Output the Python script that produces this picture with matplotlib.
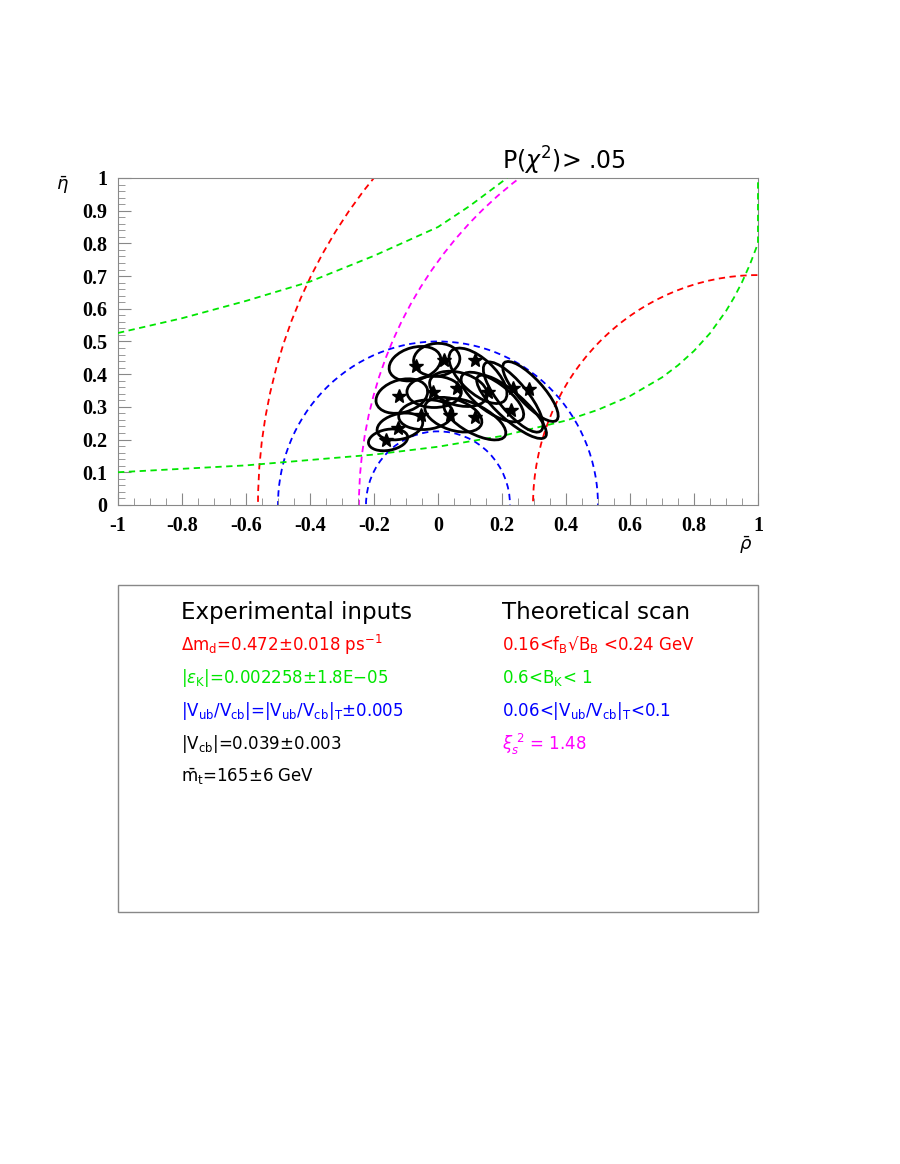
import numpy as np
import matplotlib.pyplot as plt
from matplotlib.patches import Circle, Ellipse, Rectangle

# constraint circles: centre and radii in (rho, eta)
dm_centre = (1.0, 0.0)
dm_radii = [1.5625, 0.703]          # red, Delta m_d
xi_radius = 1.247                   # magenta, xi_s
vub_centre = (0.0, 0.0)
vub_radii = [0.5, 0.225]            # blue, |Vub/Vcb|

# eps_K hyperbolas (green)
epsk_lo_rho = [-1.0, -0.6, -0.2, 0.0, 0.2, 0.4, 0.5, 0.6, 0.7, 0.75, 0.8, 0.85, 0.9, 0.925, 0.95, 0.975, 1.0, 1.0]
epsk_lo_eta = [0.100, 0.121, 0.154, 0.178, 0.211, 0.258, 0.291, 0.333, 0.390, 0.427, 0.471, 0.525, 0.593, 0.634, 0.681, 0.736, 0.80, 1.0]
epsk_hi_rho = [-1.0, -0.8, -0.6, -0.4, -0.2, 0.0, 0.1, 0.216]
epsk_hi_eta = [0.526, 0.571, 0.624, 0.683, 0.762, 0.850, 0.915, 1.0]

# fitted points (stars) and their 95% contours
star_rho = [-0.163, -0.125, -0.122, -0.069, 0.019, -0.016, 0.059, -0.053, 0.038, 0.116, 0.116, 0.156, 0.234, 0.284, 0.228]
star_eta = [0.199, 0.235, 0.333, 0.425, 0.443, 0.346, 0.358, 0.275, 0.275, 0.269, 0.443, 0.346, 0.358, 0.355, 0.291]
ell_rho = [-0.156, -0.119, -0.113, -0.072, -0.004, -0.012, 0.064, -0.038, 0.048, 0.115, 0.125, 0.170, 0.235, 0.289, 0.230]
ell_eta = [0.199, 0.240, 0.333, 0.432, 0.444, 0.346, 0.355, 0.276, 0.276, 0.262, 0.395, 0.330, 0.330, 0.347, 0.300]
ell_w = [0.124, 0.145, 0.165, 0.165, 0.145, 0.170, 0.185, 0.170, 0.185, 0.215, 0.225, 0.230, 0.270, 0.240, 0.280]
ell_h = [0.064, 0.078, 0.100, 0.100, 0.100, 0.096, 0.100, 0.090, 0.094, 0.086, 0.105, 0.092, 0.090, 0.078, 0.082]
ell_ang = [10, 12, 15, 15, 5, 0, -15, 5, -18, -28, -42, -35, -50, -47, -41]

x_ticks = [-1, -0.8, -0.6, -0.4, -0.2, 0, 0.2, 0.4, 0.6, 0.8, 1]
x_labels = ["-1", "-0.8", "-0.6", "-0.4", "-0.2", "0", "0.2", "0.4", "0.6", "0.8", "1"]
y_ticks = [0, 0.1, 0.2, 0.3, 0.4, 0.5, 0.6, 0.7, 0.8, 0.9, 1]
y_labels = ["0", "0.1", "0.2", "0.3", "0.4", "0.5", "0.6", "0.7", "0.8", "0.9", "1"]

exp_lines = [r"$\Delta$m$_{\rm d}$=0.472$\pm$0.018 ps$^{-1}$",
             r"|$\varepsilon_{\rm K}$|=0.002258$\pm$1.8E$-$05",
             r"|V$_{\rm ub}$/V$_{\rm cb}$|=|V$_{\rm ub}$/V$_{\rm cb}$|$_{\rm T}$$\pm$0.005",
             r"|V$_{\rm cb}$|=0.039$\pm$0.003",
             r"$\bar{\rm m}_{\rm t}$=165$\pm$6 GeV"]
exp_colors = ["#ff0000", "#00e600", "#0000ff", "black", "black"]
th_lines = [r"0.16<f$_{\rm B}$√B$_{\rm B}$ <0.24 GeV",
            r"0.6<B$_{\rm K}$< 1",
            r"0.06<|V$_{\rm ub}$/V$_{\rm cb}$|$_{\rm T}$<0.1",
            r"$\xi_s^{\ 2}$ = 1.48"]
th_colors = ["#ff0000", "#00e600", "#0000ff", "#ff00ff"]

plt.rcParams['mathtext.fontset'] = 'dejavusans'

fig = plt.figure(figsize=(9, 11.64), dpi=100)
ax = fig.add_axes([0.1311, 0.5662, 0.7111, 0.2809])

dash = (3.5, 2.5)
lw = 1.3
for r in dm_radii:
    ax.add_patch(Circle(dm_centre, r, fill=False, ec="#ff0000", lw=lw, ls=(0, dash)))
ax.add_patch(Circle(dm_centre, xi_radius, fill=False, ec="#ff00ff", lw=lw, ls=(0, dash)))
for r in vub_radii:
    ax.add_patch(Circle(vub_centre, r, fill=False, ec="#0000ff", lw=lw, ls=(0, dash)))
ax.plot(epsk_lo_rho, epsk_lo_eta, color="#00e600", lw=lw, ls=(0, dash), zorder=3, clip_on=False)
ax.plot(epsk_hi_rho, epsk_hi_eta, color="#00e600", lw=lw, ls=(0, dash), zorder=3)

for i in range(len(ell_rho)):
    ax.add_patch(Ellipse((ell_rho[i], ell_eta[i]), ell_w[i], ell_h[i], angle=ell_ang[i],
                         fill=False, ec="black", lw=2.0, zorder=4))
ax.plot(star_rho, star_eta, "*", color="black", ms=10, ls="none", zorder=5)

ax.set_xlim(-1, 1)
ax.set_ylim(0, 1)
ax.set_xticks(x_ticks)
ax.set_xticklabels(x_labels)
ax.set_yticks(y_ticks)
ax.set_yticklabels(y_labels)
ax.set_xticks(np.arange(-1, 1.001, 0.05), minor=True)
ax.set_yticks(np.arange(0, 1.001, 0.02), minor=True)
ax.tick_params(which="both", direction="in", color="#888888", top=False, right=False)
ax.tick_params(which="major", length=9, pad=8)
ax.tick_params(which="minor", length=5)
for lab in ax.get_xticklabels() + ax.get_yticklabels():
    lab.set_family("Liberation Serif")
    lab.set_fontweight("bold")
    lab.set_fontsize(14.5)
for sp in ax.spines.values():
    sp.set_color("#888888")

fig.text(0.5578, 0.862, r"P($\chi^2$)> .05", fontsize=17, va="center")
fig.text(0.069, 0.841, r"$\bar{\eta}$", fontsize=13, ha="center", va="center")
fig.text(0.828, 0.532, r"$\bar{\rho}$", fontsize=13, ha="center", va="center")

fig.patches.append(Rectangle((0.1311, 0.2165), 0.7111, 0.2809, transform=fig.transFigure,
                             fill=False, ec="#888888", lw=1))
fig.text(0.2011, 0.4742, "Experimental inputs", fontsize=16.5, va="center")
fig.text(0.5578, 0.4742, "Theoretical scan", fontsize=16.5, va="center")
row_y = [0.4459, 0.4175, 0.3892, 0.3608, 0.3325]
for i, s in enumerate(exp_lines):
    fig.text(0.2011, row_y[i], s, fontsize=12, color=exp_colors[i], va="center")
for i, s in enumerate(th_lines):
    fig.text(0.5578, row_y[i], s, fontsize=12, color=th_colors[i], va="center")

fig.savefig("out.png", dpi=100)
